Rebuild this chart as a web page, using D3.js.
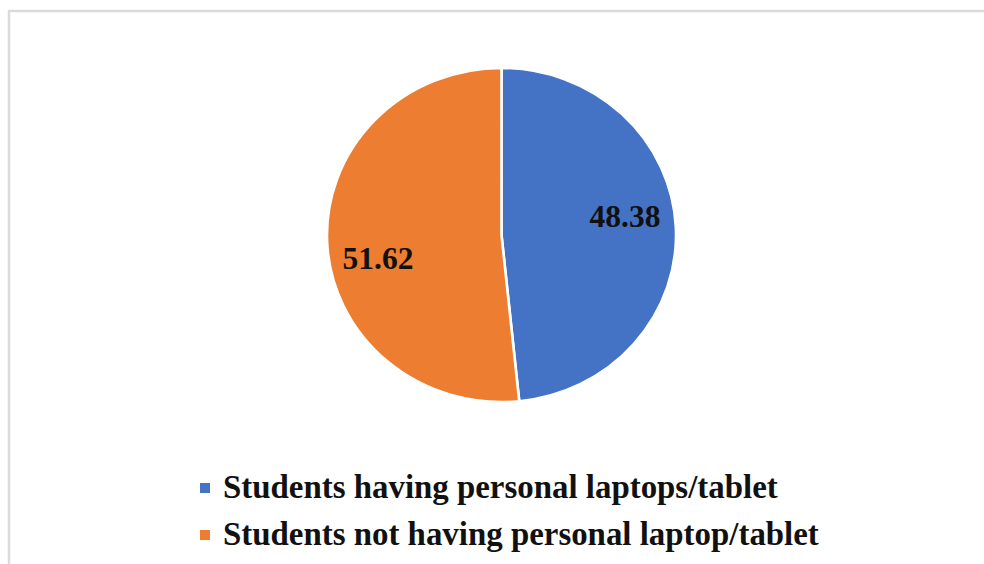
<!DOCTYPE html>
<html>
<head>
<meta charset="utf-8">
<script src="https://cdn.jsdelivr.net/npm/d3@7"></script>
<style>
  body { margin: 0; background: #fff; }
</style>
</head>
<body>
<div id="chart"></div>
<script>
// chart data
const categories = [
    'Students having personal laptops/tablet',
    'Students not having personal laptop/tablet'
];
const values = [48.38, 51.62];
const colors = ['#4472C4', '#ED7D31'];

const WIDTH = 984;
const HEIGHT = 564;
const CENTER = { x: 501.5, y: 235 };
const RADIUS = 167;
const X_STRETCH = 1.045;

let svg = d3.select('#chart')
    .append('svg')
    .attr('width', WIDTH)
    .attr('height', HEIGHT);

// frame (only top and left edges are visible in the crop)
svg.append('path')
    .attr('d', 'M9,' + HEIGHT + 'V11H' + WIDTH)
    .attr('fill', 'none')
    .attr('stroke', '#dadada')
    .attr('stroke-width', 2.5);

let pie = d3.pie().sort(null).value((d) => d);
let arcs = pie(values);

let arc = d3.arc().innerRadius(0).outerRadius(RADIUS);
let labelArc = d3.arc().innerRadius(120).outerRadius(120);

let g = svg.append('g')
    .attr('transform', 'translate(' + CENTER.x + ',' + CENTER.y + ') scale(' + X_STRETCH + ',1)');

g.selectAll('path.slice')
    .data(arcs)
    .enter()
    .append('path')
    .attr('class', 'slice')
    .attr('d', arc)
    .attr('fill', (d, i) => colors[i])
    .attr('stroke', '#fff')
    .attr('stroke-width', 2.5);

// excel put the labels a bit off the centroid, shift the angle a little
const LABEL_SHIFT = -0.126;
g.selectAll('text.value')
    .data(arcs)
    .enter()
    .append('text')
    .attr('class', 'value')
    .attr('transform', function (d) {
        let c = labelArc.centroid({ startAngle: d.startAngle + LABEL_SHIFT, endAngle: d.endAngle + LABEL_SHIFT });
        return 'translate(' + c[0] + ',' + c[1] + ') scale(' + (1 / X_STRETCH) + ',1)';
    })
    .attr('text-anchor', 'middle')
    .attr('dy', '0.42em')
    .style('font-family', '"Liberation Serif", "Times New Roman", serif')
    .style('font-weight', 'bold')
    .style('font-size', '31.5px')
    .style('fill', '#111')
    .text((d) => d.data.toFixed(2));

// legend
let legend = svg.append('g')
    .attr('transform', 'translate(200,0)');

let items = legend.selectAll('g.item')
    .data(categories)
    .enter()
    .append('g')
    .attr('class', 'item')
    .attr('transform', (d, i) => 'translate(0,' + (498 + i * 47) + ')');

items.append('rect')
    .attr('x', 0)
    .attr('y', -15)
    .attr('width', 10)
    .attr('height', 10)
    .attr('fill', (d, i) => colors[i]);

items.append('text')
    .attr('x', 23)
    .attr('y', 0)
    .style('font-family', '"Liberation Serif", "Times New Roman", serif')
    .style('font-weight', 'bold')
    .style('font-size', '32.9px')
    .style('fill', '#111')
    .text((d) => d);
</script>
</body>
</html>
